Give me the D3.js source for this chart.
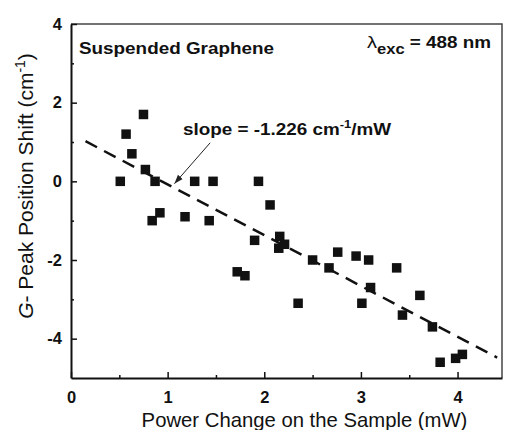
<!DOCTYPE html>
<html>
<head>
<meta charset="utf-8">
<script src="https://cdn.jsdelivr.net/npm/d3@7"></script>
<style>
  body { margin: 0; background: #fff; }
  text { font-family: "Liberation Sans", Arial, Helvetica, sans-serif; }
</style>
</head>
<body>
<div id="chart"></div>
<script>
// Values
var powerMW = [0.51, 0.57, 0.63, 0.75, 0.77, 0.87, 0.84, 0.92, 1.18, 1.28, 1.43, 1.47,
               1.72, 1.80, 1.90, 1.94, 2.06, 2.15, 2.16, 2.21, 2.35, 2.50, 2.67, 2.76,
               2.95, 3.01, 3.08, 3.10, 3.37, 3.43, 3.61, 3.74, 3.82, 3.98, 4.05];
var shift   = [0.0, 1.2, 0.7, 1.7, 0.3, 0.0, -1.0, -0.8, -0.9, 0.0, -1.0, 0.0,
               -2.3, -2.4, -1.5, 0.0, -0.6, -1.7, -1.4, -1.6, -3.1, -2.0, -2.2, -1.8,
               -1.9, -3.1, -2.0, -2.7, -2.2, -3.4, -2.9, -3.7, -4.6, -4.5, -4.4];
var fitX = [0.15, 4.41];
var fitY = [1.02, -4.48];
var arrowFrom = [1.44, 0.98];
var arrowTo = [1.07, -0.06];
var xTicks = [0, 1, 2, 3, 4];
var xMinor = [0.5, 1.5, 2.5, 3.5];
var yTicks = [-4, -2, 0, 2, 4];
var yMinor = [-3, -1, 1, 3];

var width = 505, height = 430;
var margin = ({ top: 24, right: 3, bottom: 52, left: 71 });

var x = d3.scaleLinear([0, 4.46], [margin.left, width - margin.right]);
var y = d3.scaleLinear([-5, 4], [height - margin.bottom, margin.top]);

const svg = d3.select("#chart")
    .append("svg")
    .attr("width", width)
    .attr("height", height);

svg.append("defs").append("marker")
    .attr("id", "head")
    .attr("viewBox", "0 0 10 10")
    .attr("refX", 10).attr("refY", 5)
    .attr("markerWidth", 9).attr("markerHeight", 9)
    .attr("markerUnits", "userSpaceOnUse")
    .attr("orient", "auto")
    .append("path")
    .attr("d", "M0,1.5L10,5L0,8.5Z")
    .attr("fill", "#222");

// Frame top and right
svg.append("path")
    .attr("d", `M${x(0)},${y(4)}H${x(4.46)}V${y(-5)}`)
    .attr("fill", "none")
    .attr("stroke", "#444")
    .attr("stroke-width", 1.5);

// Axes, ticks point inward
svg.append("g")
    .attr("transform", `translate(0,${y(-5)})`)
    .call(d3.axisBottom(x).tickValues(xTicks).tickSize(-6).tickSizeOuter(0).tickPadding(13)
        .tickFormat(d => String(d)));
svg.append("g")
    .attr("transform", `translate(0,${y(-5)})`)
    .call(d3.axisBottom(x).tickValues(xMinor).tickSize(-3).tickSizeOuter(0).tickFormat(""))
    .call(g => g.select(".domain").remove());

svg.append("g")
    .attr("transform", `translate(${x(0)},0)`)
    .call(d3.axisLeft(y).tickValues(yTicks).tickSize(-6).tickSizeOuter(0).tickPadding(9)
        .tickFormat(d => String(d)));
svg.append("g")
    .attr("transform", `translate(${x(0)},0)`)
    .call(d3.axisLeft(y).tickValues(yMinor).tickSize(-3).tickSizeOuter(0).tickFormat(""))
    .call(g => g.select(".domain").remove());

svg.selectAll(".domain").attr("stroke", "#111").attr("stroke-width", 2);
svg.selectAll(".tick line").attr("stroke", "#111").attr("stroke-width", 1.5);
svg.selectAll(".tick text")
    .attr("font-family", '"Liberation Sans", Arial, sans-serif')
    .attr("font-size", 16.5)
    .attr("font-weight", "bold")
    .attr("fill", "#111");

// Fit line
svg.append("line")
    .attr("x1", x(fitX[0])).attr("y1", y(fitY[0]))
    .attr("x2", x(fitX[1])).attr("y2", y(fitY[1]))
    .attr("stroke", "#111")
    .attr("stroke-width", 2.5)
    .attr("stroke-dasharray", "13,8");

// Data squares
var size = 9.5;
svg.append("g")
    .selectAll("rect")
    .data(powerMW.map((p, i) => [p, shift[i]]))
    .join("rect")
    .attr("x", d => x(d[0]) - size / 2)
    .attr("y", d => y(d[1]) - size / 2)
    .attr("width", size)
    .attr("height", size)
    .attr("fill", "#111");

// Arrow to the fit line
svg.append("line")
    .attr("x1", x(arrowFrom[0])).attr("y1", y(arrowFrom[1]))
    .attr("x2", x(arrowTo[0])).attr("y2", y(arrowTo[1]))
    .attr("stroke", "#222")
    .attr("stroke-width", 1)
    .attr("marker-end", "url(#head)");

// Annotations (the figure is a bit stretched sideways, so scale x)
function label(px, py) {
    return svg.append("text")
        .attr("transform", `translate(${px},${py}) scale(1.18,1)`)
        .attr("font-size", 16)
        .attr("font-weight", "bold")
        .attr("fill", "#111");
}

label(79, 54).text("Suspended Graphene");

label(183, 135)
    .call(t => t.append("tspan").text("slope = -1.226 cm"))
    .call(t => t.append("tspan").attr("font-size", 11).attr("dy", -7).text("-1"))
    .call(t => t.append("tspan").attr("dy", 7).text("/mW"));

label(367, 48)
    .call(t => t.append("tspan").attr("font-weight", "normal").attr("font-size", 17).text("λ"))
    .call(t => t.append("tspan").attr("font-size", 14).attr("dy", 6).text("exc"))
    .call(t => t.append("tspan").attr("dy", -6).text(" = 488 nm"));

// Axis titles
svg.append("text")
    .attr("x", 304.5)
    .attr("y", 427)
    .attr("text-anchor", "middle")
    .attr("font-size", 20.3)
    .attr("fill", "#111")
    .text("Power Change on the Sample (mW)");

svg.append("text")
    .attr("transform", `translate(33,${186}) rotate(-90)`)
    .attr("text-anchor", "middle")
    .attr("font-size", 21)
    .attr("fill", "#111")
    .call(t => t.append("tspan").attr("font-style", "italic").text("G"))
    .call(t => t.append("tspan").text("- Peak Position Shift (cm"))
    .call(t => t.append("tspan").attr("font-size", 14).attr("dy", -8).text("-1"))
    .call(t => t.append("tspan").attr("dy", 8).text(")"));
</script>
</body>
</html>
